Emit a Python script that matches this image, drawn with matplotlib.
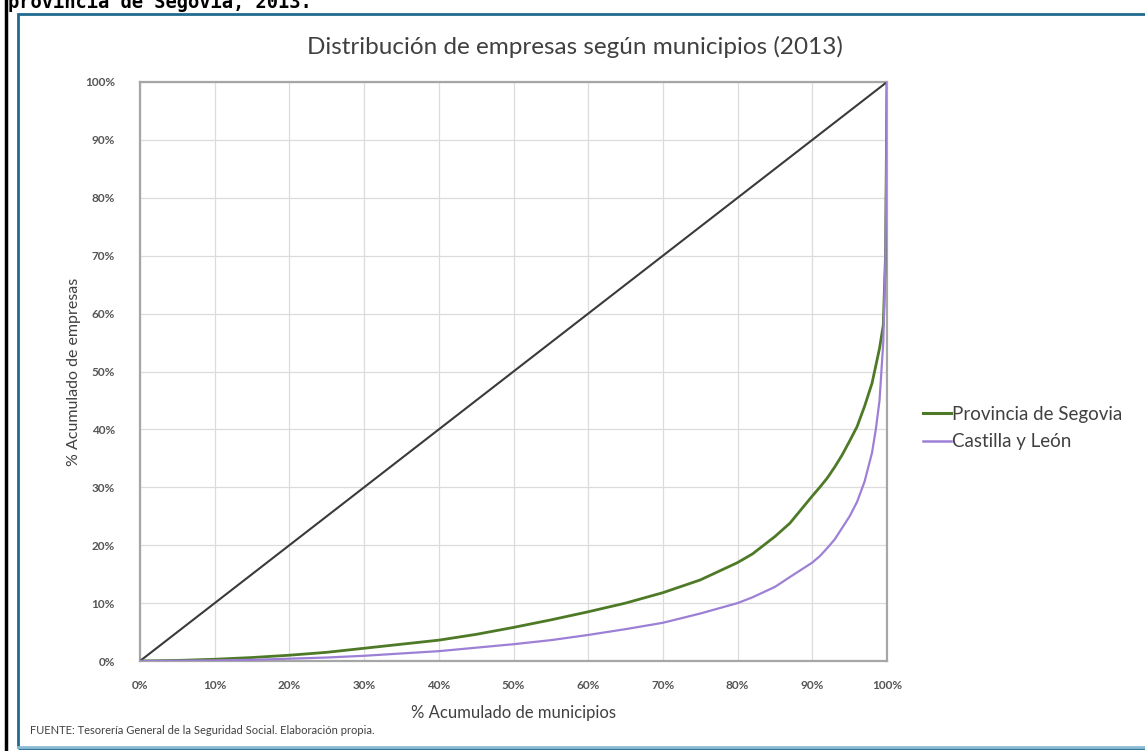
import numpy as np
import matplotlib.pyplot as plt
from matplotlib.patches import Rectangle
from matplotlib.lines import Line2D

# ================= DATA =================
x_pct = [0, 5, 10, 15, 20, 25, 30, 35, 40, 45, 50, 55, 60, 65, 70, 75, 80, 82, 85, 87,
         90, 91, 92, 93, 94, 95, 96, 97, 98, 98.5, 99, 99.5, 99.8, 100]
segovia = [0, 0.1, 0.3, 0.6, 1.0, 1.5, 2.2, 2.9, 3.6, 4.6, 5.8, 7.1, 8.5, 10.0, 11.8, 14.0, 17.0,
           18.5, 21.5, 23.8, 28.5, 30.0, 31.6, 33.5, 35.6, 38.0, 40.5, 44.0, 48.0, 51.0, 54.0,
           58.0, 70.0, 100]
cyl = [0, 0.05, 0.1, 0.2, 0.4, 0.6, 0.9, 1.3, 1.7, 2.3, 2.9, 3.6, 4.5, 5.5, 6.6, 8.2, 10.0,
       11.0, 12.8, 14.5, 17.0, 18.1, 19.5, 21.0, 23.0, 25.0, 27.5, 31.0, 36.0, 40.0, 45.0,
       55.0, 70.0, 100]
diag = [0, 100]

ticks = list(range(0, 101, 10))
tick_labels = [f"{t}%" for t in ticks]

TXT = "#404040"
GREEN = "#4e7a27"
PURPLE = "#9d80d6"

# ================= PLOT =================
plt.rcParams["font.family"] = ["Lato", "DejaVu Sans"]
fig = plt.figure(figsize=(11.45, 7.51), dpi=100)
ax = fig.add_axes([140 / 1145, 90 / 751, 747 / 1145, 579 / 751])

ax.plot(diag, diag, color="#3a3a3a", lw=1.5, zorder=3)
ax.plot(x_pct, segovia, color=GREEN, lw=2.0, zorder=4, solid_joinstyle="round")
ax.plot(x_pct, cyl, color=PURPLE, lw=1.6, zorder=4, solid_joinstyle="round")

ax.set_xlim(0, 100)
ax.set_ylim(0, 100)
ax.set_xticks(ticks)
ax.set_yticks(ticks)
ax.set_xticklabels(tick_labels, fontweight="bold")
ax.set_yticklabels(tick_labels, fontweight="bold")
ax.tick_params(length=0, labelsize=8.5, colors="#555555")
ax.tick_params(axis="x", pad=14)
ax.tick_params(axis="y", pad=18)
ax.grid(color="#dcdcdc", lw=0.9)
for s in ax.spines.values():
    s.set_color("#a6a6a6")
    s.set_linewidth(1.6)

ax.set_xlabel("% Acumulado de municipios", fontsize=12, color=TXT, labelpad=10)
ax.set_ylabel("% Acumulado de empresas", fontsize=11.5, color=TXT, labelpad=3)

fig.text(575 / 1145, 1 - 47 / 751, "Distribución de empresas según municipios (2013)",
         ha="center", va="center", fontsize=17.5, color=TXT)

handles = [Line2D([], [], color=GREEN, lw=2.2), Line2D([], [], color=PURPLE, lw=1.8)]
fig.legend(handles, ["Provincia de Segovia", "Castilla y León"],
           loc="center left", bbox_to_anchor=(906 / 1145, 1 - 428 / 751),
           frameon=False, fontsize=13.5, labelcolor=TXT, handlelength=1.5,
           handletextpad=0.05, labelspacing=0.55)

fig.text(30 / 1145, 1 - 731 / 751,
         "FUENTE: Tesorería General de la Seguridad Social. Elaboración propia.",
         ha="left", va="center", fontsize=8, color=TXT)

# frame around the chart picture
fig.add_artist(Rectangle((18 / 1145, 3 / 751), 1.2, 734 / 751, transform=fig.transFigure,
                         fill=False, edgecolor="#1f6a8f", lw=2.0))
fig.add_artist(Line2D([18 / 1145, 1], [4 / 751, 4 / 751], transform=fig.transFigure,
                      color="#8dbcd4", lw=2.0))
fig.add_artist(Line2D([6 / 1145, 6 / 1145], [0, 1], transform=fig.transFigure,
                      color="black", lw=2.5))

# caption cut at the top
fig.text(8 / 1145, 1 - 8 / 751, "provincia de Segovia, 2013.", ha="left", va="baseline",
         fontsize=13.5, fontweight="bold", family="DejaVu Sans Mono", color="black")

plt.savefig("out.png", dpi=100)
plt.close()
